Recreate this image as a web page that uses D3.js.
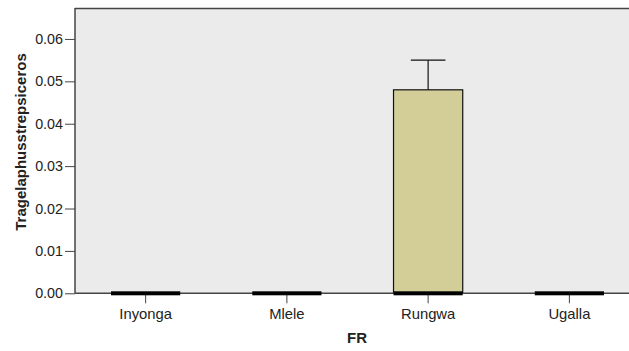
<!DOCTYPE html>
<html>
<head>
<meta charset="utf-8">
<script src="https://cdn.jsdelivr.net/npm/d3@7"></script>
<style>
  html, body { margin: 0; padding: 0; background: #ffffff; }
  svg { display: block; }
  text { font-family: "Liberation Sans", Arial, sans-serif; fill: #222; }
</style>
</head>
<body>
<svg id="chart" width="629" height="351"></svg>
<script>
const categories = ["Inyonga", "Mlele", "Rungwa", "Ugalla"];
const means = [0.0, 0.0, 0.048, 0.0];
const errorUpper = [0.0, 0.0, 0.055, 0.0];
const yTicks = [0.00, 0.01, 0.02, 0.03, 0.04, 0.05, 0.06];
const xTitle = "FR";
const yTitle = "Tragelaphusstrepsiceros";

(function () {
const svg = d3.select("#chart");
const pLeft = 75, pRight = 640, pTop = 8, pBottom = 293.3;

const x = d3.scaleBand().domain(categories).range([pLeft, pRight])
  .paddingInner(0.51).paddingOuter(0.255);
const y = d3.scaleLinear().domain([0, 0.0673]).range([pBottom, pTop]);

// plot background
svg.append("rect").attr("x", pLeft).attr("y", pTop)
  .attr("width", pRight - pLeft).attr("height", pBottom - pTop)
  .attr("fill", "#ebebeb");

const data = categories.map((c, i) => ({ c, m: means[i], e: errorUpper[i] }));

// bars
svg.selectAll(".bar").data(data.filter(d => d.m > 0)).join("rect")
  .attr("x", d => x(d.c)).attr("width", x.bandwidth())
  .attr("y", d => y(d.m)).attr("height", d => y(0) - y(d.m))
  .attr("fill", "#d3ce98").attr("stroke", "#111").attr("stroke-width", 1.2);

// error bars
const eb = data.filter(d => d.e > d.m);
svg.selectAll(".ebv").data(eb).join("line")
  .attr("x1", d => x(d.c) + x.bandwidth() / 2).attr("x2", d => x(d.c) + x.bandwidth() / 2)
  .attr("y1", d => y(d.m)).attr("y2", d => y(d.e))
  .attr("stroke", "#111").attr("stroke-width", 1.2);
svg.selectAll(".ebh").data(eb).join("line")
  .attr("x1", d => x(d.c) + x.bandwidth() * 0.25).attr("x2", d => x(d.c) + x.bandwidth() * 0.75)
  .attr("y1", d => y(d.e)).attr("y2", d => y(d.e))
  .attr("stroke", "#111").attr("stroke-width", 1.2);

// frame: top border
svg.append("line").attr("x1", pLeft).attr("x2", pRight).attr("y1", pTop + 0.5).attr("y2", pTop + 0.5)
  .attr("stroke", "#444").attr("stroke-width", 1.5);

// y axis
const yAxis = svg.append("g").attr("transform", `translate(${pLeft},0)`)
  .call(d3.axisLeft(y).tickValues(yTicks).tickFormat(d3.format(".2f")).tickSize(10).tickPadding(2));
yAxis.select(".domain").attr("stroke", "#444").attr("stroke-width", 1.5)
  .attr("d", `M0,${pTop}V${pBottom}`);
yAxis.selectAll(".tick line").attr("stroke", "#444");
yAxis.selectAll(".tick text").attr("font-size", "14.3px").attr("fill", "#222")
  .style("font-family", "'Liberation Sans', Arial, sans-serif");

// x axis
const xAxis = svg.append("g").attr("transform", `translate(0,${pBottom})`)
  .call(d3.axisBottom(x).tickSize(10).tickPadding(5));
xAxis.select(".domain").attr("stroke", "#444").attr("stroke-width", 1.5)
  .attr("d", `M${pLeft},0H${pRight}`);
xAxis.selectAll(".tick line").attr("stroke", "#444");
xAxis.selectAll(".tick text").attr("font-size", "14.8px").attr("fill", "#222")
  .style("font-family", "'Liberation Sans', Arial, sans-serif");

// zero-value bars drawn as thick lines at baseline (SPSS style)
svg.selectAll(".zbar").data(data).join("rect")
  .attr("x", d => x(d.c)).attr("width", x.bandwidth())
  .attr("y", y(0) - 2).attr("height", 4)
  .attr("fill", "#000");

// titles
svg.append("text").attr("x", 357).attr("y", 343).attr("text-anchor", "middle")
  .attr("font-size", "15px").attr("font-weight", "bold").text(xTitle);
svg.append("text").attr("transform", "translate(26,142) rotate(-90)")
  .attr("text-anchor", "middle").attr("font-size", "15px").attr("font-weight", "bold")
  .text(yTitle);
})();
</script>
</body>
</html>
